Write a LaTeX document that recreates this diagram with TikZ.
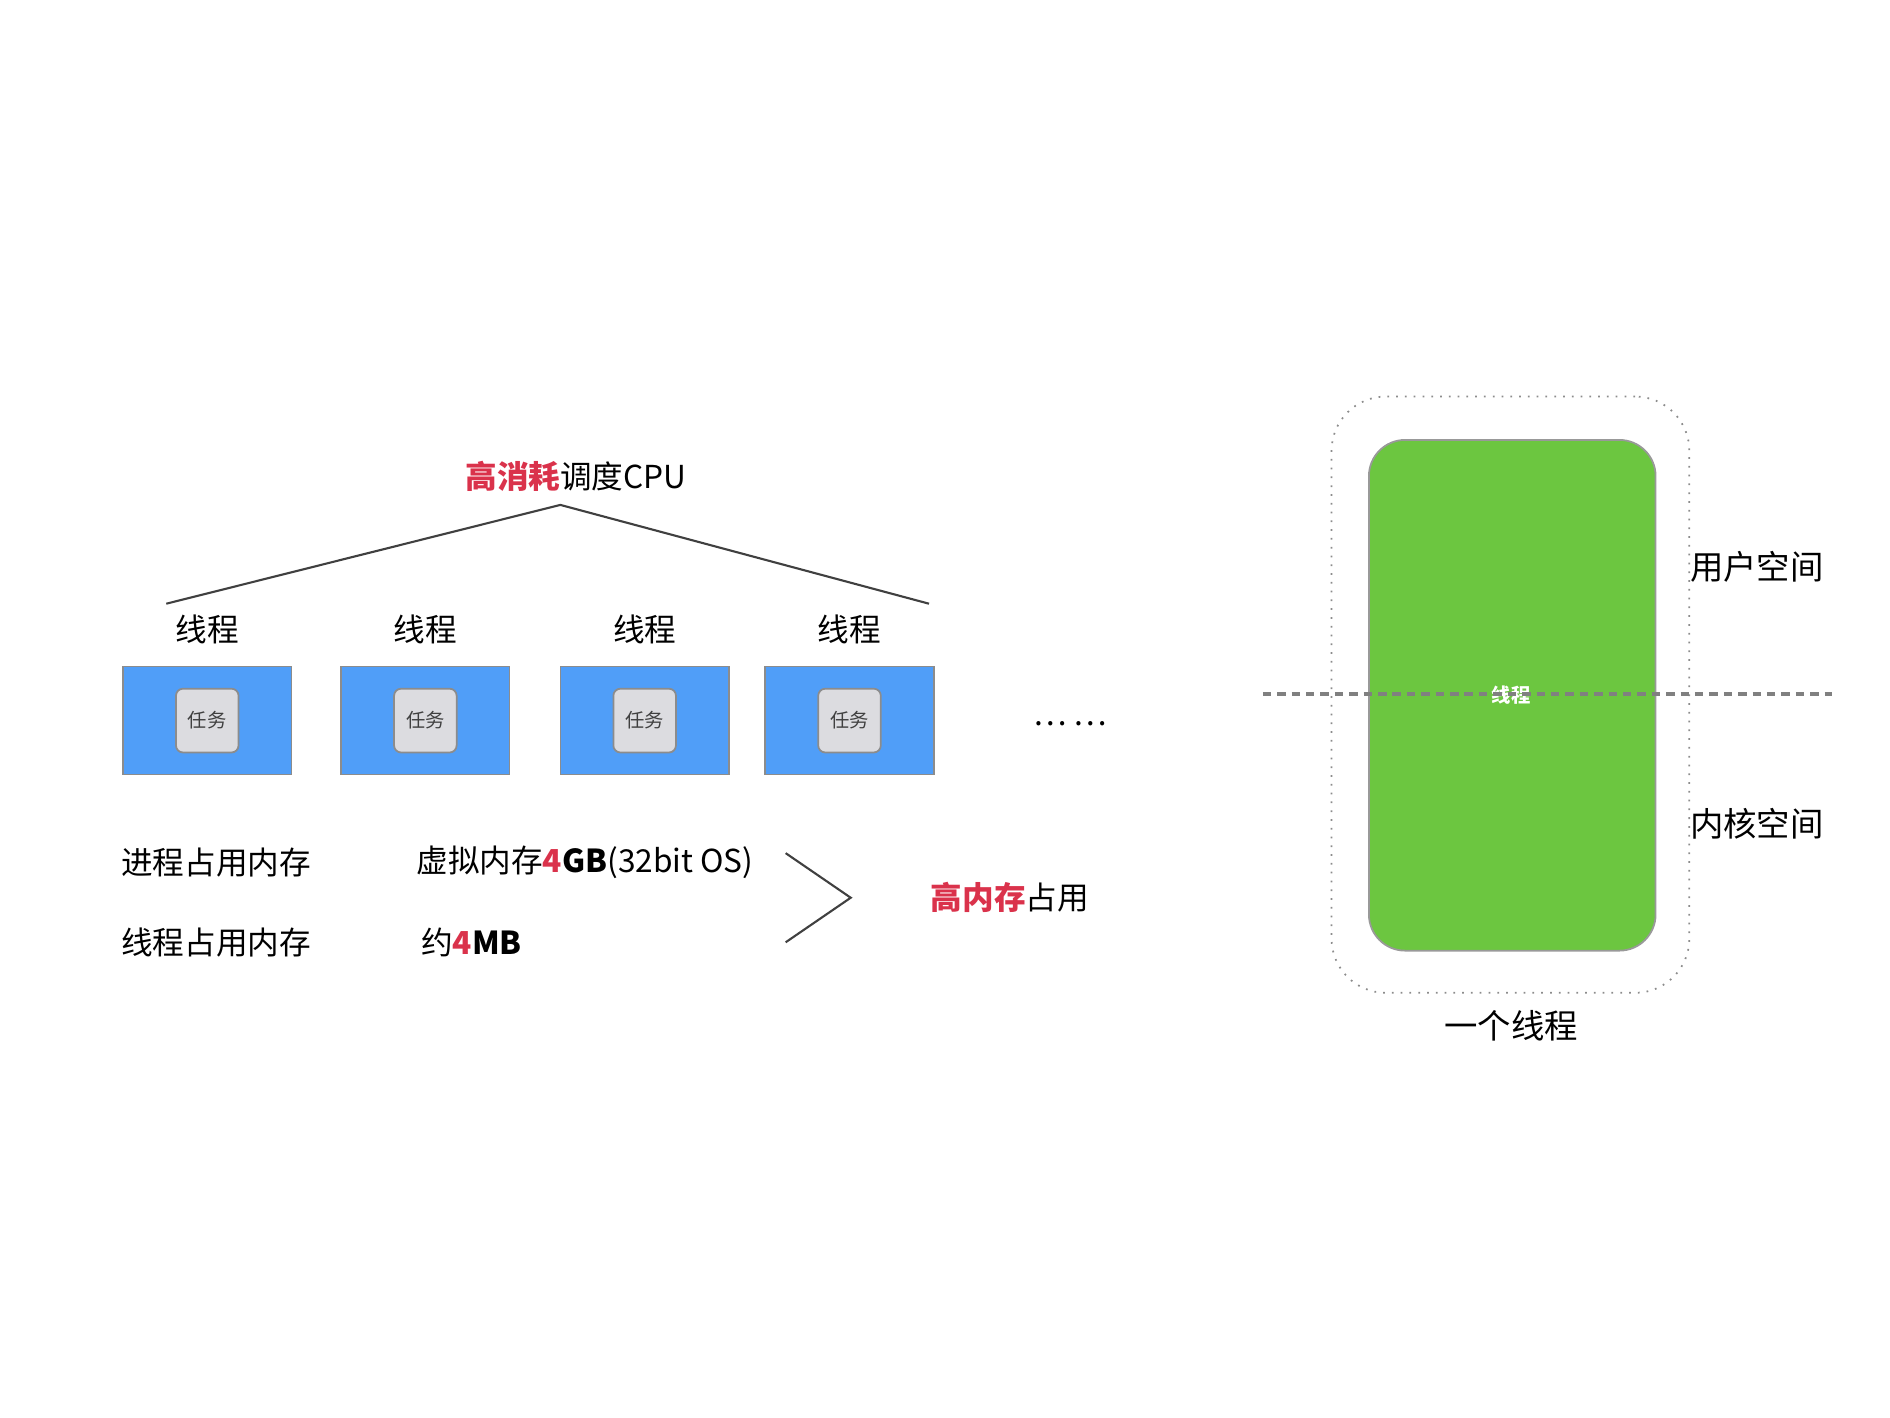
\documentclass[tikz,border=0pt]{standalone}
\usepackage{fontspec}
\setmainfont{Noto Sans CJK SC}
\usepackage{tikz}

\definecolor{hired}{RGB}{218,50,75}
\definecolor{thrblue}{RGB}{80,158,248}
\definecolor{thrgreen}{RGB}{108,198,64}
\definecolor{taskgray}{RGB}{220,220,224}

\begin{document}
\begin{tikzpicture}[x=0.01205cm,y=-0.01205cm]

% Define styles
\tikzset{
  lbl/.style={inner sep=0pt,font=\fontsize{9pt}{11pt}\selectfont},
  thrbox/.style={draw=black!45,line width=0.4pt,fill=thrblue,minimum width=1.687cm,minimum height=1.084cm,inner sep=0pt},
  taskbox/.style={draw=black!45,line width=0.5pt,fill=taskgray,rounded corners=2pt,minimum width=0.626cm,minimum height=0.638cm,inner sep=0pt,font=\fontsize{5.5pt}{6pt}\selectfont,text=black!75},
  link/.style={line width=0.6pt,color=black!75}
}

\useasboundingbox (0,0) rectangle (1568.5,1176);

% Define coordinates
\coordinate (apex) at (465,419);
\coordinate (lft) at (138,501);
\coordinate (rgt) at (771,501);

% CPU scheduling
\node[lbl] (cpu) at (478,395) {\textcolor{hired}{\textbf{高消耗}}调度CPU};
\draw[link] (lft) -- (apex) -- (rgt);

% threads with their tasks
\foreach \x/\n in {172/1,353/2,535/3,705/4}{
  \node[lbl] (thr\n) at (\x,522) {线程};
  \node[thrbox] (box\n) at (\x,598) {};
  \node[taskbox] (task\n) at (\x,598) {任务};
}
\node[lbl] (more) at (888,601) {…\ …};

% memory usage
\node[lbl,anchor=west] (pmem) at (100,716) {进程占用内存};
\node[lbl,anchor=west] (tmem) at (100,782) {线程占用内存};
\node[lbl,anchor=west] (vmem) at (345,716) {虚拟内存\textbf{\textcolor{hired}{4}GB}(32bit OS)};
\node[lbl,anchor=west] (smem) at (349,782) {约\textbf{\textcolor{hired}{4}MB}};

\coordinate (gta) at (652,708);
\coordinate (gtb) at (706,745);
\coordinate (gtc) at (652,782);
\draw[link] (gta) -- (gtb) -- (gtc);
\node[lbl,anchor=west] (himem) at (772,745) {\textcolor{hired}{\textbf{高内存}}占用};

% one thread: user and kernel space
\node[draw=black!45,dotted,line width=0.5pt,rounded corners=0.543cm,minimum width=3.579cm,minimum height=5.965cm,inner sep=0pt] (outer) at (1253.5,576.5) {};
\node[draw=black!40,line width=0.5pt,fill=thrgreen,rounded corners=0.362cm,minimum width=2.868cm,minimum height=5.109cm,inner sep=0pt] (green) at (1255,577) {};
\node[inner sep=0pt,text=white,font=\fontsize{5.5pt}{6pt}\selectfont\bfseries] (gthr) at (1254,577) {线程};

\coordinate (dsa) at (1048,576);
\coordinate (dsb) at (1520,576);
\draw[color=black!50,line width=1.05pt,dash pattern=on 2.4pt off 1.7pt] (dsa) -- (dsb);

\node[lbl,anchor=west,font=\fontsize{9.5pt}{11pt}\selectfont] (user) at (1402,470) {用户空间};
\node[lbl,anchor=west,font=\fontsize{9.5pt}{11pt}\selectfont] (kern) at (1402,684) {内核空间};
\node[lbl,font=\fontsize{9.5pt}{11pt}\selectfont] (one) at (1254,851) {一个线程};

\end{tikzpicture}
\end{document}
